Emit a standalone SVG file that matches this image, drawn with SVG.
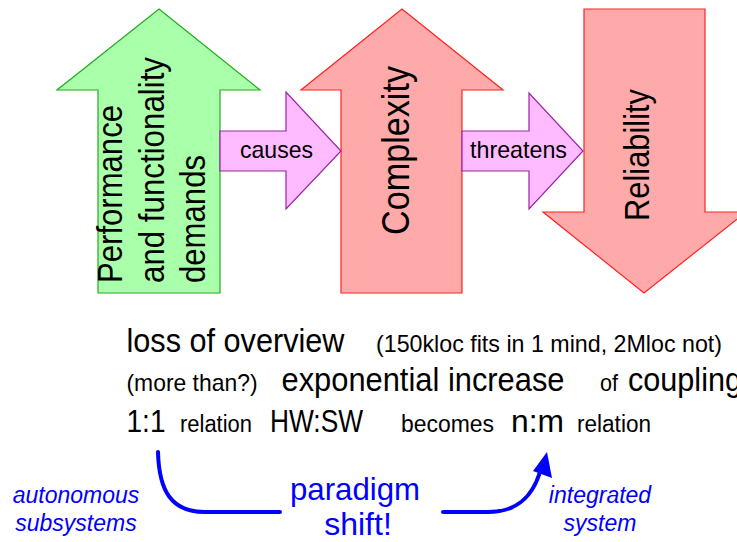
<svg xmlns="http://www.w3.org/2000/svg" width="737" height="542" viewBox="0 0 737 542">
<style>
.green{fill:#aaffaa;stroke:#22aa22;stroke-width:1.2}
.red{fill:#ffaaaa;stroke:#ff2222;stroke-width:1.2}
.pink{fill:#ffbbff;stroke:#9922aa;stroke-width:1.2}
text{font-family:"Liberation Sans",Arial,sans-serif;fill:#000}
.big{font-size:33px}
.small{font-size:24px}
.blue{fill:#0000ff}
.it{font-style:italic;font-size:23px;text-anchor:middle}
.conn{fill:none;stroke:#0000ff;stroke-width:4;stroke-linecap:round}
</style>
<g id="demands">
<polygon class="green" points="159,9 260,90 220,90 220,293 98,293 98,90 57,90"/>
<text x="122" y="283" font-size="35" textLength="178" lengthAdjust="spacingAndGlyphs" transform="rotate(-90 122 283)">Performance</text>
<text x="164" y="283" font-size="35" textLength="226" lengthAdjust="spacingAndGlyphs" transform="rotate(-90 164 283)">and functionality</text>
<text x="205" y="283" font-size="35" textLength="128" lengthAdjust="spacingAndGlyphs" transform="rotate(-90 205 283)">demands</text>
</g>
<g id="complexity">
<polygon class="red" points="402,9 503,90 462,90 462,293 341,293 341,90 301,90"/>
<text x="409" y="235" font-size="39" textLength="169" lengthAdjust="spacingAndGlyphs" transform="rotate(-90 409 235)">Complexity</text>
</g>
<g id="reliability">
<polygon class="red" points="584,9 705,9 705,212 746,212 644,293 543,212 584,212"/>
<text x="649" y="221" font-size="35" textLength="132" lengthAdjust="spacingAndGlyphs" transform="rotate(-90 649 221)">Reliability</text>
</g>
<g id="causes">
<polygon class="pink" points="220,131 286,131 286,92 341,151 286,209 286,171 220,171"/>
<text x="240" y="158" font-size="24" textLength="73" lengthAdjust="spacingAndGlyphs">causes</text>
</g>
<g id="threatens">
<polygon class="pink" points="462,131 529,131 529,93 583,151 529,209 529,171 462,171"/>
<text x="470" y="158" font-size="24" textLength="97" lengthAdjust="spacingAndGlyphs">threatens</text>
</g>
<g id="notes">
<text class="big" x="126.5" y="352" textLength="218" lengthAdjust="spacingAndGlyphs">loss of overview</text>
<text class="small" x="376" y="352" textLength="346" lengthAdjust="spacingAndGlyphs">(150kloc fits in 1 mind, 2Mloc not)</text>
<text class="small" x="126.5" y="391" textLength="131" lengthAdjust="spacingAndGlyphs">(more than?)</text>
<text class="big" x="281.5" y="391" textLength="283" lengthAdjust="spacingAndGlyphs">exponential increase</text>
<text class="small" x="600" y="391" textLength="18" lengthAdjust="spacingAndGlyphs">of</text>
<text class="big" x="628" y="391" textLength="114" lengthAdjust="spacingAndGlyphs">coupling</text>
<text x="126.5" y="432" font-size="31" textLength="39" lengthAdjust="spacingAndGlyphs">1:1</text>
<text x="180" y="432" font-size="23" textLength="72" lengthAdjust="spacingAndGlyphs">relation</text>
<text x="270" y="432" font-size="31" textLength="93" lengthAdjust="spacingAndGlyphs">HW:SW</text>
<text x="401" y="432" font-size="23" textLength="93" lengthAdjust="spacingAndGlyphs">becomes</text>
<text x="511" y="432" font-size="31" textLength="53" lengthAdjust="spacingAndGlyphs">n:m</text>
<text x="577" y="432" font-size="23" textLength="74" lengthAdjust="spacingAndGlyphs">relation</text>
</g>
<g id="autonomous">
<text class="blue it" x="76" y="503">autonomous</text>
<text class="blue it" x="76" y="531">subsystems</text>
</g>
<g id="paradigm">
<text class="blue" x="355" y="500" font-size="32" textLength="130" lengthAdjust="spacingAndGlyphs" text-anchor="middle">paradigm</text>
<text class="blue" x="358" y="535" font-size="32" text-anchor="middle">shift!</text>
</g>
<g id="integrated">
<text class="blue it" x="600" y="503">integrated</text>
<text class="blue it" x="600" y="531">system</text>
</g>
<g id="connectors">
<path class="conn" d="M158,452 C159,492 172,512 205,512 L280,512"/>
<path class="conn" d="M443,512 L488,512 C516,512 532,498 540,472"/>
<polygon fill="#0000ff" points="547,452 552,478 533,471"/>
</g>
</svg>
